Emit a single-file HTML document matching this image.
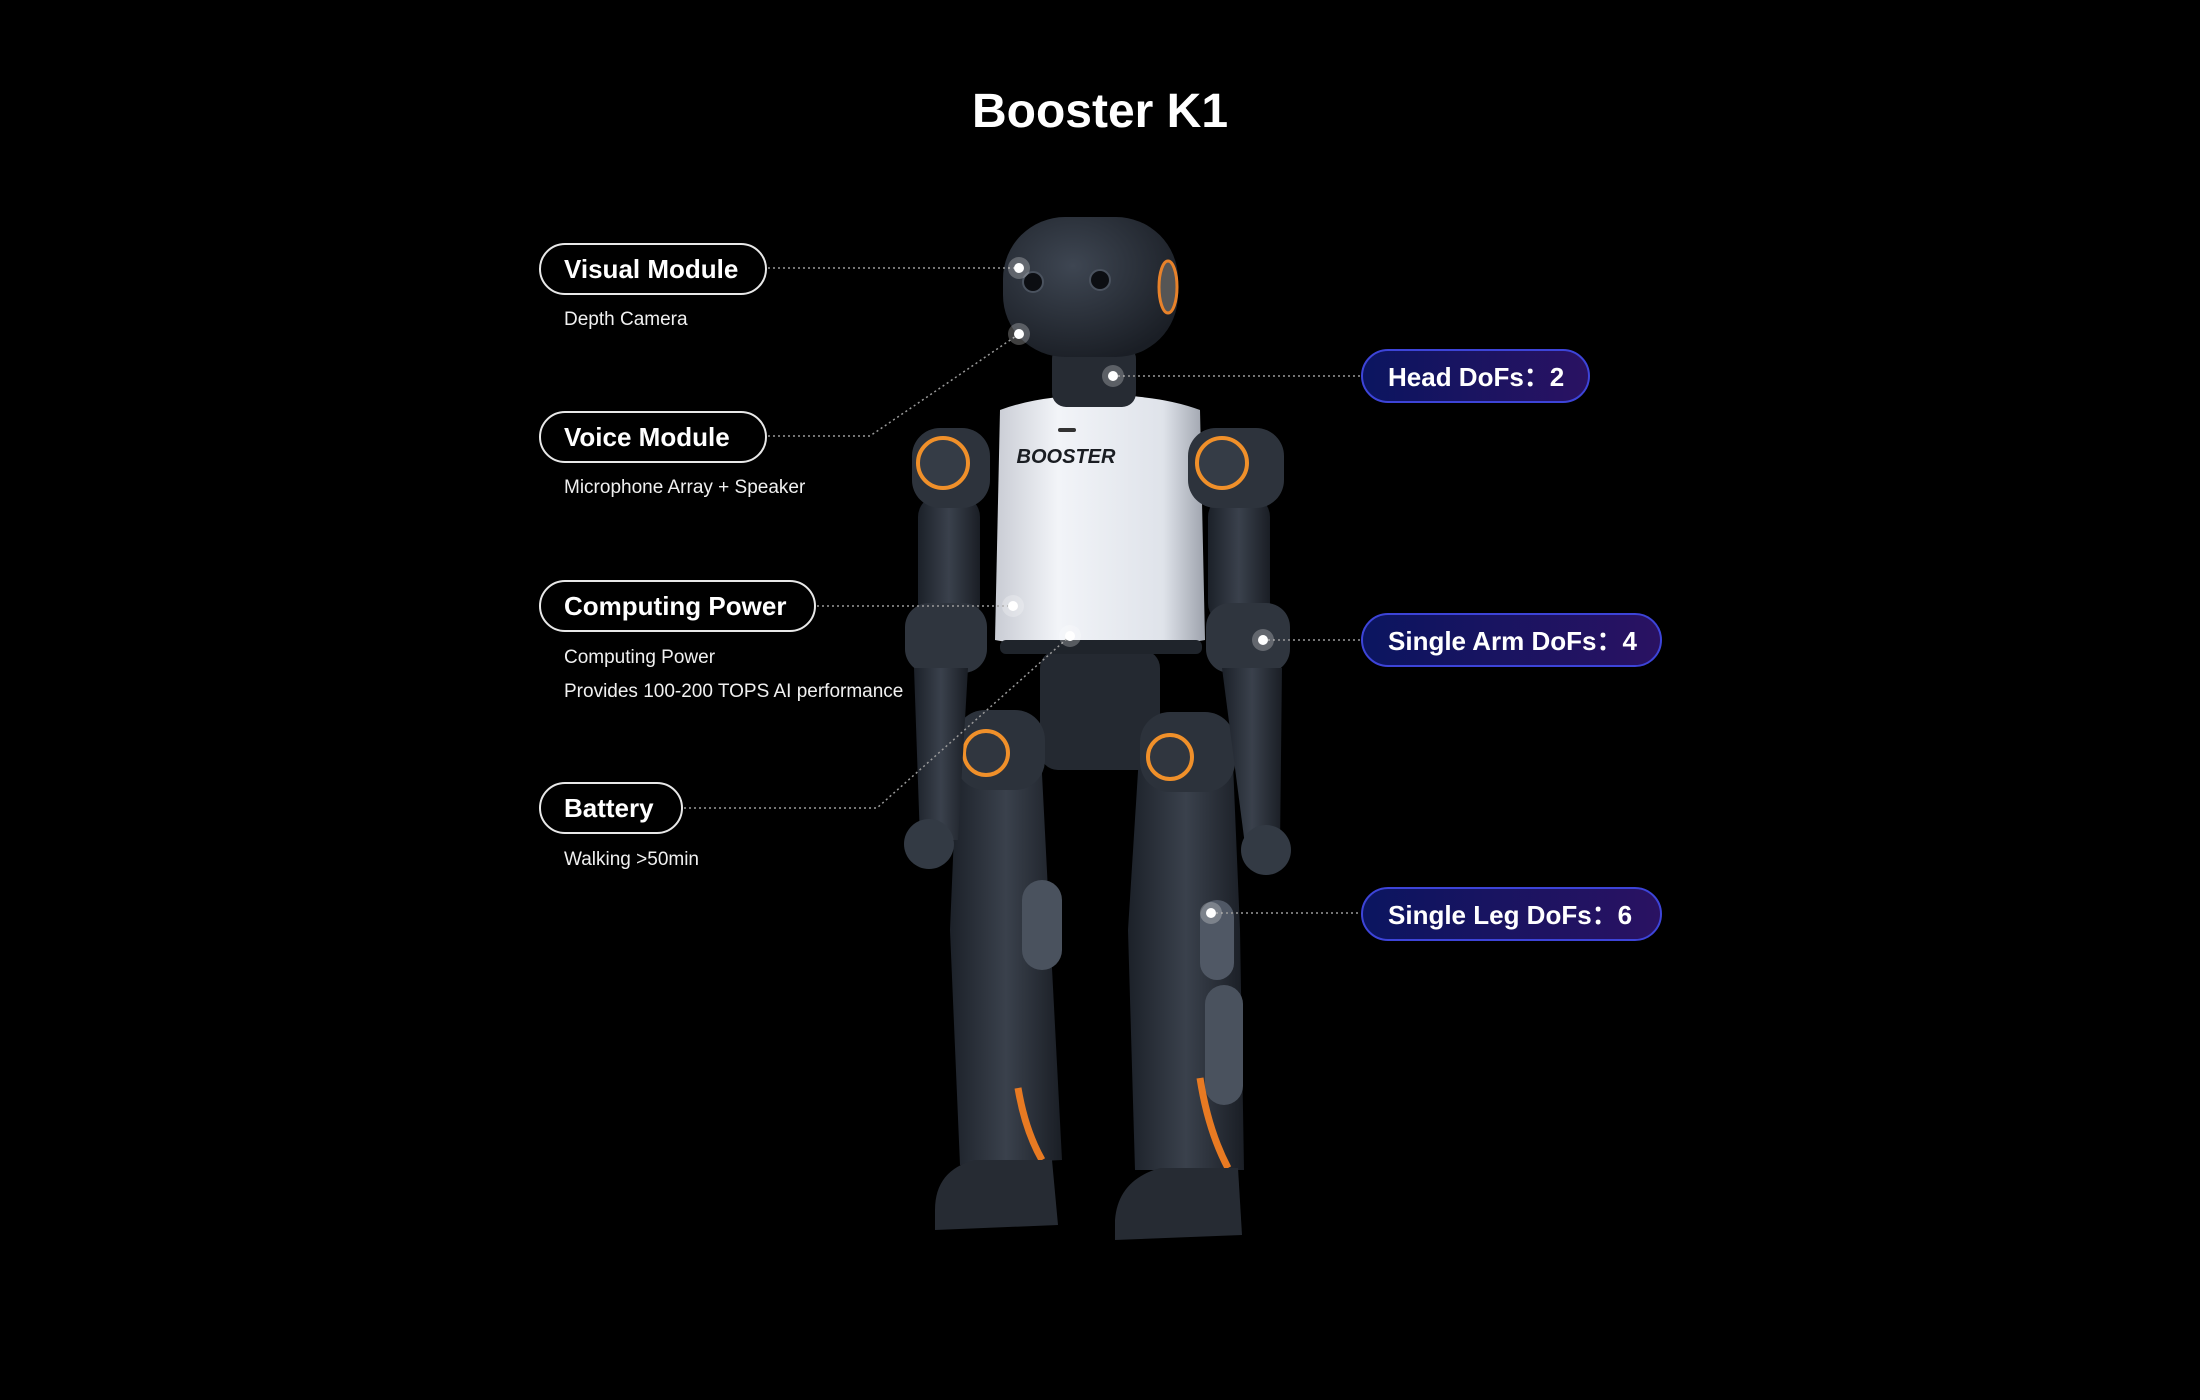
<!DOCTYPE html>
<html><head><meta charset="utf-8"><style>
html,body{margin:0;padding:0;background:#000;}
body{width:2200px;height:1400px;position:relative;overflow:hidden;font-family:"Liberation Sans","DejaVu Sans",sans-serif;color:#fff;}
.title{position:absolute;left:0;width:2200px;top:80px;text-align:center;font-size:48px;font-weight:bold;line-height:64px;}
.pl{position:absolute;box-sizing:border-box;border:2px solid #e8e8e8;border-radius:30px;font-weight:bold;font-size:26px;padding-left:23px;display:flex;align-items:center;background:#000;}
.pr{position:absolute;box-sizing:border-box;border:2px solid #3d44d8;border-radius:30px;font-weight:bold;font-size:26px;padding-left:25px;padding-bottom:2px;display:flex;align-items:center;background:linear-gradient(90deg,#0b1560,#2a1262);}
.sub{position:absolute;left:564px;font-size:19px;color:#f0f0f0;line-height:24px;}
svg{position:absolute;left:0;top:0;}
</style></head><body>
<svg width="2200" height="1400" viewBox="0 0 2200 1400">
<defs>
<linearGradient id="dk" x1="0" x2="1"><stop offset="0" stop-color="#1c2129"/><stop offset=".5" stop-color="#3a414c"/><stop offset="1" stop-color="#1a1e25"/></linearGradient>
<linearGradient id="wt" x1="0" x2="1"><stop offset="0" stop-color="#c9ccd4"/><stop offset=".3" stop-color="#f2f4f8"/><stop offset=".8" stop-color="#dfe3ea"/><stop offset="1" stop-color="#9ea3ad"/></linearGradient>
<radialGradient id="hd" cx=".4" cy=".35" r=".7"><stop offset="0" stop-color="#3e4652"/><stop offset="1" stop-color="#1a1e25"/></radialGradient>
</defs>
<path d="M958 740 L1040 735 L1050 930 L1062 1160 L960 1165 L950 930 Z" fill="url(#dk)"/>
<path d="M1140 740 L1232 740 L1240 930 L1244 1170 L1135 1170 L1128 930 Z" fill="url(#dk)"/>
<rect x="1022" y="880" width="40" height="90" rx="20" fill="#4a525e"/>
<rect x="1205" y="985" width="38" height="120" rx="19" fill="#4a525e"/>
<rect x="1200" y="900" width="34" height="80" rx="17" fill="#505865"/>
<path d="M1018 1088 Q1025 1130 1042 1160" stroke="#e87a22" stroke-width="7" fill="none"/>
<path d="M1200 1078 Q1208 1130 1228 1168" stroke="#e87a22" stroke-width="7" fill="none"/>
<path d="M935 1210 Q935 1170 975 1160 L1052 1160 L1058 1225 L935 1230 Z" fill="#262b33"/>
<path d="M1115 1220 Q1118 1180 1160 1168 L1238 1168 L1242 1235 L1115 1240 Z" fill="#262b33"/>
<rect x="1040" y="650" width="120" height="120" rx="18" fill="#242931"/>
<rect x="955" y="710" width="90" height="80" rx="30" fill="#2c323b"/>
<rect x="1140" y="712" width="95" height="80" rx="30" fill="#2c323b"/>
<circle cx="986" cy="753" r="22" fill="#30363f" stroke="#f0902a" stroke-width="4"/>
<circle cx="1170" cy="757" r="22" fill="#30363f" stroke="#f0902a" stroke-width="4"/>
<rect x="918" y="495" width="62" height="130" rx="22" fill="url(#dk)"/>
<rect x="905" y="603" width="82" height="70" rx="24" fill="#2f353e"/>
<path d="M914 668 L968 668 L958 840 L920 840 Z" fill="url(#dk)"/>
<circle cx="929" cy="844" r="25" fill="#333a44"/>
<rect x="1208" y="495" width="62" height="130" rx="22" fill="url(#dk)"/>
<rect x="1206" y="603" width="84" height="70" rx="24" fill="#2f353e"/>
<path d="M1222 668 L1282 668 L1280 845 L1245 845 Z" fill="url(#dk)"/>
<circle cx="1266" cy="850" r="25" fill="#333a44"/>
<path d="M1000 410 Q1040 395 1100 395 Q1160 395 1200 410 L1205 640 Q1100 660 995 640 Z" fill="url(#wt)"/>
<rect x="1000" y="640" width="202" height="14" rx="6" fill="#1f242b"/>
<text x="1066" y="463" font-family="Liberation Sans,sans-serif" font-weight="bold" font-style="italic" font-size="20" fill="#1a1d22" text-anchor="middle">BOOSTER</text>
<rect x="1058" y="428" width="18" height="4" rx="2" fill="#333"/>
<rect x="912" y="428" width="78" height="80" rx="28" fill="#2d333c"/>
<rect x="1188" y="428" width="96" height="80" rx="28" fill="#2d333c"/>
<circle cx="943" cy="463" r="25" fill="#353c46" stroke="#f0902a" stroke-width="4"/>
<circle cx="1222" cy="463" r="25" fill="#353c46" stroke="#f0902a" stroke-width="4"/>
<rect x="1052" y="345" width="84" height="62" rx="14" fill="#262b33"/>
<rect x="1003" y="217" width="175" height="140" rx="62" fill="url(#hd)"/>
<ellipse cx="1168" cy="287" rx="9" ry="26" fill="#555" stroke="#e8822a" stroke-width="3"/>
<circle cx="1033" cy="282" r="10" fill="#0c0e12" stroke="#4a525e" stroke-width="2"/>
<circle cx="1100" cy="280" r="10" fill="#0c0e12" stroke="#4a525e" stroke-width="2"/>
<g stroke="#9a9a9a" stroke-width="1.5" stroke-dasharray="2 3" fill="none">
<path d="M768 268 L1019 268"/>
<path d="M768 436 L870 436 L1019 334"/>
<path d="M817 606 L1013 606"/>
<path d="M684 808 L877 808 L1070 636"/>
<path d="M1113 376 L1361 376"/>
<path d="M1263 640 L1361 640"/>
<path d="M1211 913 L1361 913"/>
</g>
<g fill="#fff">
<circle cx="1019" cy="268" r="11" fill-opacity=".25"/><circle cx="1019" cy="268" r="5"/>
<circle cx="1019" cy="334" r="11" fill-opacity=".25"/><circle cx="1019" cy="334" r="5"/>
<circle cx="1013" cy="606" r="11" fill-opacity=".25"/><circle cx="1013" cy="606" r="5"/>
<circle cx="1070" cy="636" r="11" fill-opacity=".25"/><circle cx="1070" cy="636" r="5"/>
<circle cx="1113" cy="376" r="11" fill-opacity=".25"/><circle cx="1113" cy="376" r="5"/>
<circle cx="1263" cy="640" r="11" fill-opacity=".25"/><circle cx="1263" cy="640" r="5"/>
<circle cx="1211" cy="913" r="11" fill-opacity=".25"/><circle cx="1211" cy="913" r="5"/>
</g>
</svg>
<div class="title">Booster K1</div>
<div class="pl" style="left:539px;top:243px;width:228px;height:52px;">Visual Module</div>
<div class="sub" style="top:308px;">Depth Camera</div>
<div class="pl" style="left:539px;top:411px;width:228px;height:52px;">Voice Module</div>
<div class="sub" style="top:476px;">Microphone Array + Speaker</div>
<div class="pl" style="left:539px;top:580px;width:277px;height:52px;">Computing Power</div>
<div class="sub" style="top:646px;">Computing Power</div>
<div class="sub" style="top:680px;">Provides 100-200 TOPS AI performance</div>
<div class="pl" style="left:539px;top:782px;width:144px;height:52px;">Battery</div>
<div class="sub" style="top:848px;">Walking &gt;50min</div>
<div class="pr" style="left:1361px;top:349px;width:229px;height:54px;">Head DoFs：2</div>
<div class="pr" style="left:1361px;top:613px;width:301px;height:54px;">Single Arm DoFs：4</div>
<div class="pr" style="left:1361px;top:887px;width:301px;height:54px;">Single Leg DoFs：6</div>
</body></html>
